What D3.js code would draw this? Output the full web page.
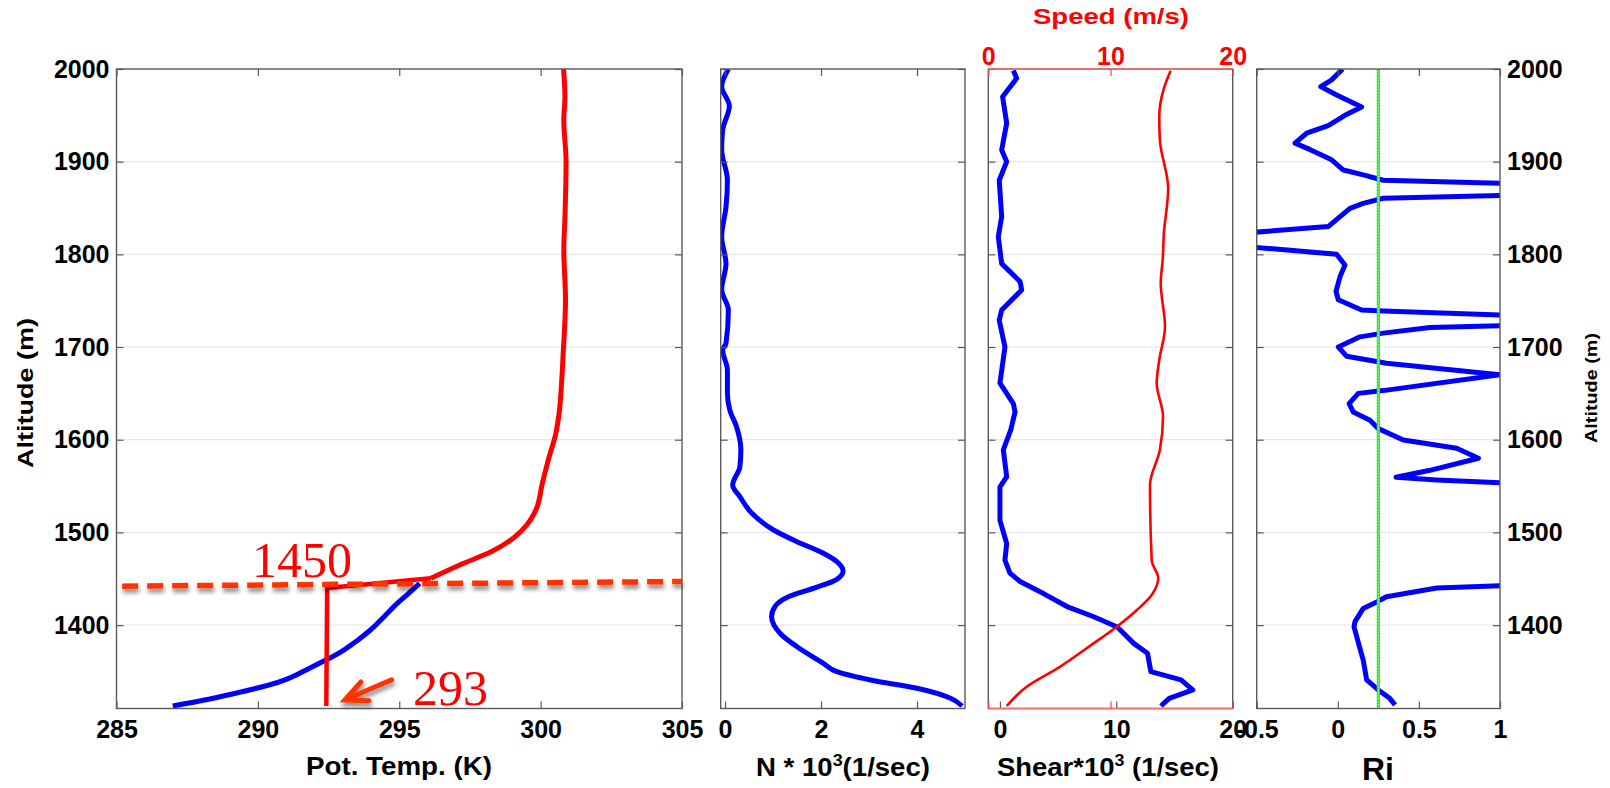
<!DOCTYPE html>
<html><head><meta charset="utf-8">
<script src="https://cdn.jsdelivr.net/npm/d3@7"></script>
<style>
body{margin:0;background:#fff;}
svg{display:block;font-family:"Liberation Sans",Arial,Helvetica,sans-serif;}
</style></head><body>
<svg id="chart" width="1610" height="788"></svg>
<script>
// ---------------- DATA ----------------
const altDomain = [1310, 2000];
const altTicks = [1400, 1500, 1600, 1700, 1800, 1900, 2000];

// Panel 1: potential temperature (K)
const thetaDomain = [285, 305];
const thetaTicks = [285, 290, 295, 300, 305];
const thetaRedAlt = [2000,1970,1945,1900,1840,1805,1751,1694,1661,1630,1607,1578,1553,1524,1508,1494,1479,1467,1450.5];
const thetaRed    = [300.81,300.86,300.82,300.9,300.86,300.82,300.88,300.8,300.74,300.66,300.54,300.27,300.06,299.83,299.51,299.04,298.25,297.30,296.12];
const mixedAlt    = [1450.5, 1440, 1312.7];
const mixedTheta  = [296.12, 292.45, 292.42];
const thetaBlueAlt = [1312.7,1320.3,1327.8,1337.8,1355.1,1362.3,1373.1,1383.2,1394.7,1409.1,1423.5,1434.3,1445.1];
const thetaBlue    = [286.99,288.30,289.40,290.67,291.93,292.41,293.04,293.51,293.98,294.46,294.93,295.33,295.72];
// annotations (data coordinates)
const inversionLineTheta = [285.2, 305];
const inversionLineAlt   = [1442, 1447];
const inversionLabel = "1450";
const inversionLabelPos = [289.79, 1452];
const mixedLabel = "293";
const mixedLabelPos = [295.49, 1313.8];
const arrowTail = [294.73, 1341];
const arrowTip  = [293.08, 1319.2];

// Panel 2: N * 10^3
const nDomain = [-0.09, 5];
const nTicks = [0, 2, 4];
const nAlt = [2000,1981,1960,1934,1913,1880,1851,1819,1790,1762,1740,1704,1697,1675,1650,1632,1614,1589,1571,1551,1538.5,1520.6,1502.6,1490,1477.5,1468.4,1458.4,1449.4,1439.7,1430.6,1419.9,1409,1391,1376.7,1358.8,1349.7,1340.8,1331.8,1321,1312.7];
const nVals = [0.07,-0.07,0.09,-0.05,-0.07,0.05,0.02,-0.07,0.02,-0.07,0.07,0.02,-0.05,0.05,0.05,0.10,0.24,0.33,0.31,0.16,0.31,0.56,1.01,1.50,2.05,2.33,2.46,2.33,1.84,1.32,1.04,0.97,1.15,1.50,2.05,2.33,3.03,4.00,4.70,4.94];

// Panel 3: shear * 10^3 and wind speed
const shearDomain = [-1, 20];
const shearTicks = [0, 10, 20];
const shearAlt = [1998.4,1990,1970,1941.5,1912.7,1900,1880,1840.7,1819,1790,1770.6,1761.6,1740,1729,1700,1661,1639,1630,1610.5,1589,1560,1549,1513,1488,1470,1456,1447,1434,1420,1409,1398,1380,1369.6,1349.7,1340.8,1330,1321,1312.7];
const shearVals = [1.15,1.44,0.23,0.58,0.15,0.58,-0.06,0.15,-0.14,0.15,1.73,1.87,0.15,-0.06,0.43,0,1.15,1.3,0.93,0.29,0.58,0,0,0.58,0.43,0.86,1.73,3.74,5.76,8.06,10.08,11.52,12.68,12.97,15.56,16.57,14.55,13.83];
const speedDomain = [0, 20];
const speedTicks = [0, 10, 20];
const speedAlt = [1998,1979,1948.6,1923.5,1871,1822.8,1794,1769,1722,1686,1661,1625,1589,1551,1470,1450.5,1432.5,1416,1398,1380,1355,1333.5,1312.7];
const speedVals = [14.92,14.37,13.99,14.04,14.72,14.37,14.27,14.11,14.46,13.99,13.78,14.3,14.04,13.23,13.37,13.91,13.37,12.14,10.49,8.59,5.86,3.14,1.51];

// Panel 4: Richardson number
const riDomain = [-0.5, 1];
const riTicks = [-0.5, 0, 0.5, 1];
const riCritical = 0.25;
const riAlt = [2000,1988,1981,1972,1959,1950,1939,1930.7,1920,1913,1902,1891,1885.7,1880,1874,1866,1860.5,1855,1849.7,1840.7,1830,1820,1812,1800,1788.6,1776,1760,1751,1740,1739,1731,1726,1721,1715,1711,1700,1690,1682.5,1670,1653,1650,1639,1630,1621,1612,1599.7,1590.8,1580,1567,1559.5,1556.6,1549,1446,1440,1430.6,1425,1418,1403.7,1398,1362,1340.8,1330,1321,1314];
const riVals = [0.03,-0.04,-0.105,-0.007,0.147,0.044,-0.059,-0.192,-0.264,-0.17,-0.038,0.034,0.157,0.28,1.6,1.6,0.28,0.157,0.075,0.014,-0.059,-0.8,-0.8,-0.007,0.044,0.014,-0.011,0.003,0.147,0.28,1.6,1.6,0.568,0.28,0.137,0.003,0.055,0.30,1.0,0.28,0.126,0.07,0.095,0.198,0.25,0.404,0.733,0.867,0.568,0.359,0.61,1.6,1.6,0.61,0.30,0.24,0.157,0.106,0.1,0.157,0.178,0.25,0.32,0.353];

// ---------------- LAYOUT ----------------
const svg = d3.select("#chart");
const TOP = 69, BOT = 708.5;
const FRAME = "#5a5a5a";
const y = d3.scaleLinear().domain(altDomain).range([BOT, TOP]);

const P = [
  {x0:116.5, x1:682},
  {x0:720.7, x1:965},
  {x0:988.3, x1:1232.7},
  {x0:1256.7, x1:1500}
];
const xT  = d3.scaleLinear().domain(thetaDomain).range([P[0].x0, P[0].x1]);
const xN  = d3.scaleLinear().domain(nDomain).range([P[1].x0, P[1].x1]);
const xS  = d3.scaleLinear().domain(shearDomain).range([P[2].x0, P[2].x1]);
const xSp = d3.scaleLinear().domain(speedDomain).range([P[2].x0, P[2].x1]);
const xR  = d3.scaleLinear().domain(riDomain).range([P[3].x0, P[3].x1]);

const defs = svg.append("defs");
P.forEach((p,i)=>{
  defs.append("clipPath").attr("id","clip"+i).append("rect")
    .attr("x",p.x0).attr("y",TOP).attr("width",p.x1-p.x0).attr("height",BOT-TOP);
});
const f = defs.append("filter").attr("id","shadow").attr("filterUnits","userSpaceOnUse")
  .attr("x",0).attr("y",0).attr("width",1610).attr("height",788);
f.append("feDropShadow").attr("dx",1).attr("dy",4).attr("stdDeviation",2.2)
  .attr("flood-color","#000").attr("flood-opacity",0.45);

// grid lines
P.forEach(p=>{
  svg.append("g").selectAll("line").data(altTicks).join("line")
    .attr("x1",p.x0).attr("x2",p.x1).attr("y1",d=>y(d)).attr("y2",d=>y(d))
    .attr("stroke","#e3e3e3").attr("stroke-width",1);
});

function zip(xs, ys){ return xs.map((v,i)=>[v, ys[i]]); }
function line(xs, curve){ return d3.line().x(d=>xs(d[0])).y(d=>y(d[1])).curve(curve||d3.curveLinear); }

// ---- Panel 1 data
const g1 = svg.append("g").attr("clip-path","url(#clip0)");
g1.append("path").attr("d", line(xT, d3.curveMonotoneY)(zip(thetaBlue, thetaBlueAlt)))
  .attr("fill","none").attr("stroke","#0000ff").attr("stroke-width",5).attr("stroke-linejoin","round");
g1.append("path").attr("d", line(xT, d3.curveMonotoneY)(zip(thetaRed, thetaRedAlt)))
  .attr("fill","none").attr("stroke","#ff0000").attr("stroke-width",5).attr("stroke-linejoin","round");
g1.append("path").attr("d", line(xT)(zip(mixedTheta, mixedAlt)))
  .attr("fill","none").attr("stroke","#ff0000").attr("stroke-width",4.5).attr("stroke-linejoin","round");

// ---- Panel 2 data
const g2 = svg.append("g").attr("clip-path","url(#clip1)");
g2.append("path").attr("d", line(xN, d3.curveMonotoneY)(zip(nVals, nAlt)))
  .attr("fill","none").attr("stroke","#0000ff").attr("stroke-width",5).attr("stroke-linejoin","round");

// ---- Panel 3 data
const g3 = svg.append("g").attr("clip-path","url(#clip2)");
g3.append("path").attr("d", line(xS)(zip(shearVals, shearAlt)))
  .attr("fill","none").attr("stroke","#0000ff").attr("stroke-width",5).attr("stroke-linejoin","round");
g3.append("path").attr("d", line(xSp, d3.curveMonotoneY)(zip(speedVals, speedAlt)))
  .attr("fill","none").attr("stroke","#ff0000").attr("stroke-width",2.6).attr("stroke-linejoin","round");

// ---- Panel 4 data
const g4 = svg.append("g").attr("clip-path","url(#clip3)");
g4.append("path").attr("d", line(xR)(zip(riVals, riAlt)))
  .attr("fill","none").attr("stroke","#0000ff").attr("stroke-width",5).attr("stroke-linejoin","round");
g4.append("line").attr("x1",xR(riCritical)).attr("x2",xR(riCritical)).attr("y1",y(altDomain[0])).attr("y2",y(altDomain[1]))
  .attr("stroke","#33e033").attr("stroke-width",3.2);
g4.append("line").attr("x1",xR(riCritical)).attr("x2",xR(riCritical)).attr("y1",y(altDomain[0])).attr("y2",y(altDomain[1]))
  .attr("stroke","#8cff8c").attr("stroke-width",1.2).attr("stroke-dasharray","1.5,1.5");

// ---------------- FRAMES & AXES ----------------
function styleAxis(g, color, size){
  g.select(".domain").remove();
  g.selectAll(".tick line").attr("stroke", color||FRAME).attr("stroke-width",1.2);
  g.selectAll(".tick text").attr("fill", color==="#ff4040" ? "#ff0000" : "#000")
    .attr("font-size", size||25).attr("font-weight","bold").attr("font-family",null);
}
const fmt = d=>String(d);

P.forEach((p,i)=>{
  svg.append("rect").attr("x",p.x0).attr("y",TOP).attr("width",p.x1-p.x0).attr("height",BOT-TOP)
    .attr("fill","none").attr("stroke",FRAME).attr("stroke-width",1.4);
  svg.append("g").attr("transform",`translate(${p.x0},0)`)
    .call(d3.axisLeft(y).tickValues(altTicks).tickSize(-7).tickPadding(7).tickFormat(i===0?d3.format("d"):""))
    .call(g=>styleAxis(g));
  svg.append("g").attr("transform",`translate(${p.x1},0)`)
    .call(d3.axisRight(y).tickValues(altTicks).tickSize(-7).tickPadding(7).tickFormat(i===3?d3.format("d"):""))
    .call(g=>styleAxis(g));
});

// Panel 1 x axes
svg.append("g").attr("transform",`translate(0,${BOT})`)
  .call(d3.axisBottom(xT).tickValues(thetaTicks).tickSize(-7).tickPadding(12).tickFormat(fmt)).call(g=>styleAxis(g));
svg.append("g").attr("transform",`translate(0,${TOP})`)
  .call(d3.axisTop(xT).tickValues(thetaTicks).tickSize(-7).tickFormat("")).call(g=>styleAxis(g));
// Panel 2 x axes
svg.append("g").attr("transform",`translate(0,${BOT})`)
  .call(d3.axisBottom(xN).tickValues(nTicks).tickSize(-7).tickPadding(12).tickFormat(fmt)).call(g=>styleAxis(g));
svg.append("g").attr("transform",`translate(0,${TOP})`)
  .call(d3.axisTop(xN).tickValues(nTicks).tickSize(-7).tickFormat("")).call(g=>styleAxis(g));
// Panel 3: shear bottom, speed top/bottom (red)
svg.append("g").attr("transform",`translate(0,${BOT})`)
  .call(d3.axisBottom(xS).tickValues(shearTicks).tickSize(-7).tickPadding(12).tickFormat(fmt)).call(g=>styleAxis(g));
[TOP, BOT].forEach(yy=>{
  svg.append("line").attr("x1",P[2].x0).attr("x2",P[2].x1).attr("y1",yy).attr("y2",yy)
    .attr("stroke","#ff6a6a").attr("stroke-width",1.5);
});
svg.append("g").attr("transform",`translate(0,${TOP})`)
  .call(d3.axisTop(xSp).tickValues(speedTicks).tickSize(-7).tickPadding(4).tickFormat(fmt)).call(g=>styleAxis(g,"#ff4040"));
svg.append("g").attr("transform",`translate(0,${BOT})`)
  .call(d3.axisBottom(xSp).tickValues(speedTicks).tickSize(-7).tickFormat("")).call(g=>styleAxis(g,"#ff4040"));
// Panel 4 x axes
svg.append("g").attr("transform",`translate(0,${BOT})`)
  .call(d3.axisBottom(xR).tickValues(riTicks).tickSize(-7).tickPadding(12).tickFormat(fmt)).call(g=>styleAxis(g));
svg.append("g").attr("transform",`translate(0,${TOP})`)
  .call(d3.axisTop(xR).tickValues(riTicks).tickSize(-7).tickFormat("")).call(g=>styleAxis(g));

// ---------------- TITLES ----------------
function title(x, yy, len, size, parts, color, rotate){
  const t = svg.append("text").attr("x",x).attr("y",yy).attr("text-anchor","middle")
    .attr("font-size",size).attr("font-weight","bold").attr("fill",color||"#000");
  if(len) t.attr("textLength",len).attr("lengthAdjust","spacingAndGlyphs");
  if(rotate) t.attr("transform",`rotate(-90,${x},${yy})`);
  parts.forEach(pt=>{
    const s = t.append("tspan").text(pt.t);
    if(pt.sup){ s.attr("font-size",size*0.65).attr("dy",-size*0.42); }
    if(pt.after){ s.attr("dy",size*0.42); }
  });
  return t;
}
title(399, 775, 186, 25, [{t:"Pot. Temp. (K)"}]);
title(843, 776, 174, 25, [{t:"N * 10"},{t:"3",sup:true},{t:"(1/sec)",after:true}]);
title(1108, 776, 222, 25, [{t:"Shear*10"},{t:"3",sup:true},{t:" (1/sec)",after:true}]);
title(1378, 780, null, 32, [{t:"Ri"}]);
title(1111, 24, 156, 22, [{t:"Speed (m/s)"}], "#ff0000");
title(33, 393, 150, 22, [{t:"Altitude (m)"}], "#000", true);
title(1597, 388, 110, 16, [{t:"Altitude (m)"}], "#000", true);

// ---------------- ANNOTATIONS ----------------
const ann = svg.append("g");
ann.append("path").attr("d", line(xT)(zip(inversionLineTheta, inversionLineAlt)))
  .attr("fill","none").attr("stroke","#ff3300").attr("stroke-width",5.5)
  .attr("stroke-dasharray","16,9").attr("filter","url(#shadow)");
const tl = [xT(arrowTail[0]), y(arrowTail[1])], tp = [xT(arrowTip[0]), y(arrowTip[1])];
const ang = Math.atan2(tl[1]-tp[1], tl[0]-tp[0]);
const L = 24, spread = 25*Math.PI/180;
const b1 = [tp[0]+L*Math.cos(ang-spread), tp[1]+L*Math.sin(ang-spread)];
const b2 = [tp[0]+L*Math.cos(ang+spread), tp[1]+L*Math.sin(ang+spread)];
const ag = ann.append("g").attr("filter","url(#shadow)");
ag.append("path").attr("d",`M${tl[0]},${tl[1]}L${tp[0]+2},${tp[1]-1}`)
  .attr("stroke","#ff3300").attr("stroke-width",5).attr("fill","none").attr("stroke-linecap","round");
ag.append("path").attr("d",`M${b1[0]},${b1[1]}L${tp[0]},${tp[1]}L${b2[0]},${b2[1]}`)
  .attr("stroke","#ff3300").attr("stroke-width",5).attr("fill","none")
  .attr("stroke-linecap","round").attr("stroke-linejoin","miter");
ann.append("text").attr("x",xT(inversionLabelPos[0])).attr("y",y(inversionLabelPos[1]))
  .attr("font-family","'Liberation Serif','Times New Roman',serif").attr("font-size",50)
  .attr("fill","#ff0000").text(inversionLabel);
ann.append("text").attr("x",xT(mixedLabelPos[0])).attr("y",y(mixedLabelPos[1]))
  .attr("font-family","'Liberation Serif','Times New Roman',serif").attr("font-size",50)
  .attr("fill","#ff0000").text(mixedLabel);
</script>
</body></html>
